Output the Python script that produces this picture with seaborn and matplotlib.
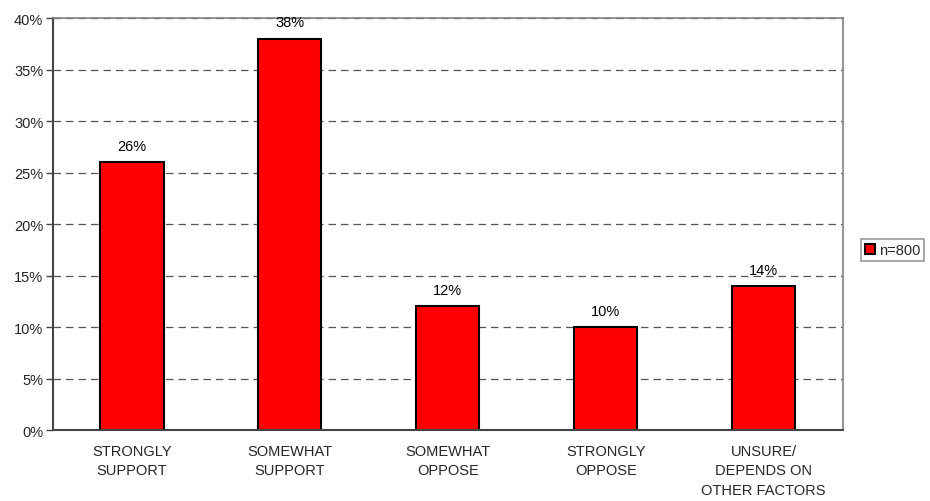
import numpy as np
import pandas as pd
import matplotlib
matplotlib.use("Agg")
import matplotlib.pyplot as plt
import seaborn as sns

# Data
categories = ["STRONGLY\nSUPPORT", "SOMEWHAT\nSUPPORT", "SOMEWHAT\nOPPOSE",
              "STRONGLY\nOPPOSE", "UNSURE/\nDEPENDS ON\nOTHER FACTORS"]
values = [26, 38, 12, 10, 14]
series_name = "n=800"
y_ticks = [0, 5, 10, 15, 20, 25, 30, 35, 40]

sns.set_style("white")
plt.rcParams['font.family'] = ['Liberation Sans', 'DejaVu Sans']
fs = 10.5

df = pd.DataFrame({"category": categories, "value": values})

fig = plt.figure(figsize=(9.3, 5.02), dpi=100)
ax = fig.add_axes([0.057, 0.1414, 0.849, 0.8207])

sns.barplot(data=df, x="category", y="value", color="#ff0000", edgecolor="black",
            linewidth=1.5, width=0.4, saturation=1, ax=ax, label=series_name)

# value labels above bars
for i, v in enumerate(values):
    ax.text(i, v + 0.9, f"{v}%", ha="center", va="bottom", fontsize=fs, color="black")

ax.set_ylim(0, 40)
ax.set_xlim(-0.5, len(categories) - 0.5)
ax.set_yticks(y_ticks)
ax.set_yticklabels([f"{t}%" for t in y_ticks], fontsize=fs)
ax.yaxis.grid(True, linestyle=(0, (6, 4)), color="#555555", linewidth=0.9)
ax.set_axisbelow(True)

# category labels centered, ticks at boundaries
ax.set_xticks(range(len(categories)))
ax.set_xticklabels(categories, fontsize=fs, linespacing=1.5)
ax.tick_params(axis="x", which="major", length=0, pad=10)
ax.set_xticks(np.arange(-0.5, len(categories)), minor=True)
ax.tick_params(axis="x", which="minor", length=5, width=1, color="#444444")
ax.tick_params(axis="y", length=5, width=1, color="#444444", left=True, pad=2)

ax.set_xlabel("")
ax.set_ylabel("")

for side in ["left", "bottom"]:
    ax.spines[side].set_color("#444444")
    ax.spines[side].set_linewidth(1.5)
for side in ["top", "right"]:
    ax.spines[side].set_color("#808080")
    ax.spines[side].set_linewidth(1.2)

if ax.legend_:
    ax.legend_.remove()
handles, labels = ax.get_legend_handles_labels()
leg = fig.legend(handles[:1], [series_name], loc="center left",
                 bbox_to_anchor=(0.926, 0.5), fontsize=fs, frameon=True,
                 fancybox=False, edgecolor="#808080", handlelength=0.7,
                 handleheight=0.7, handletextpad=0.3, borderpad=0.25,
                 borderaxespad=0)
leg.get_frame().set_linewidth(1.2)

fig.savefig("out.png", dpi=100)
